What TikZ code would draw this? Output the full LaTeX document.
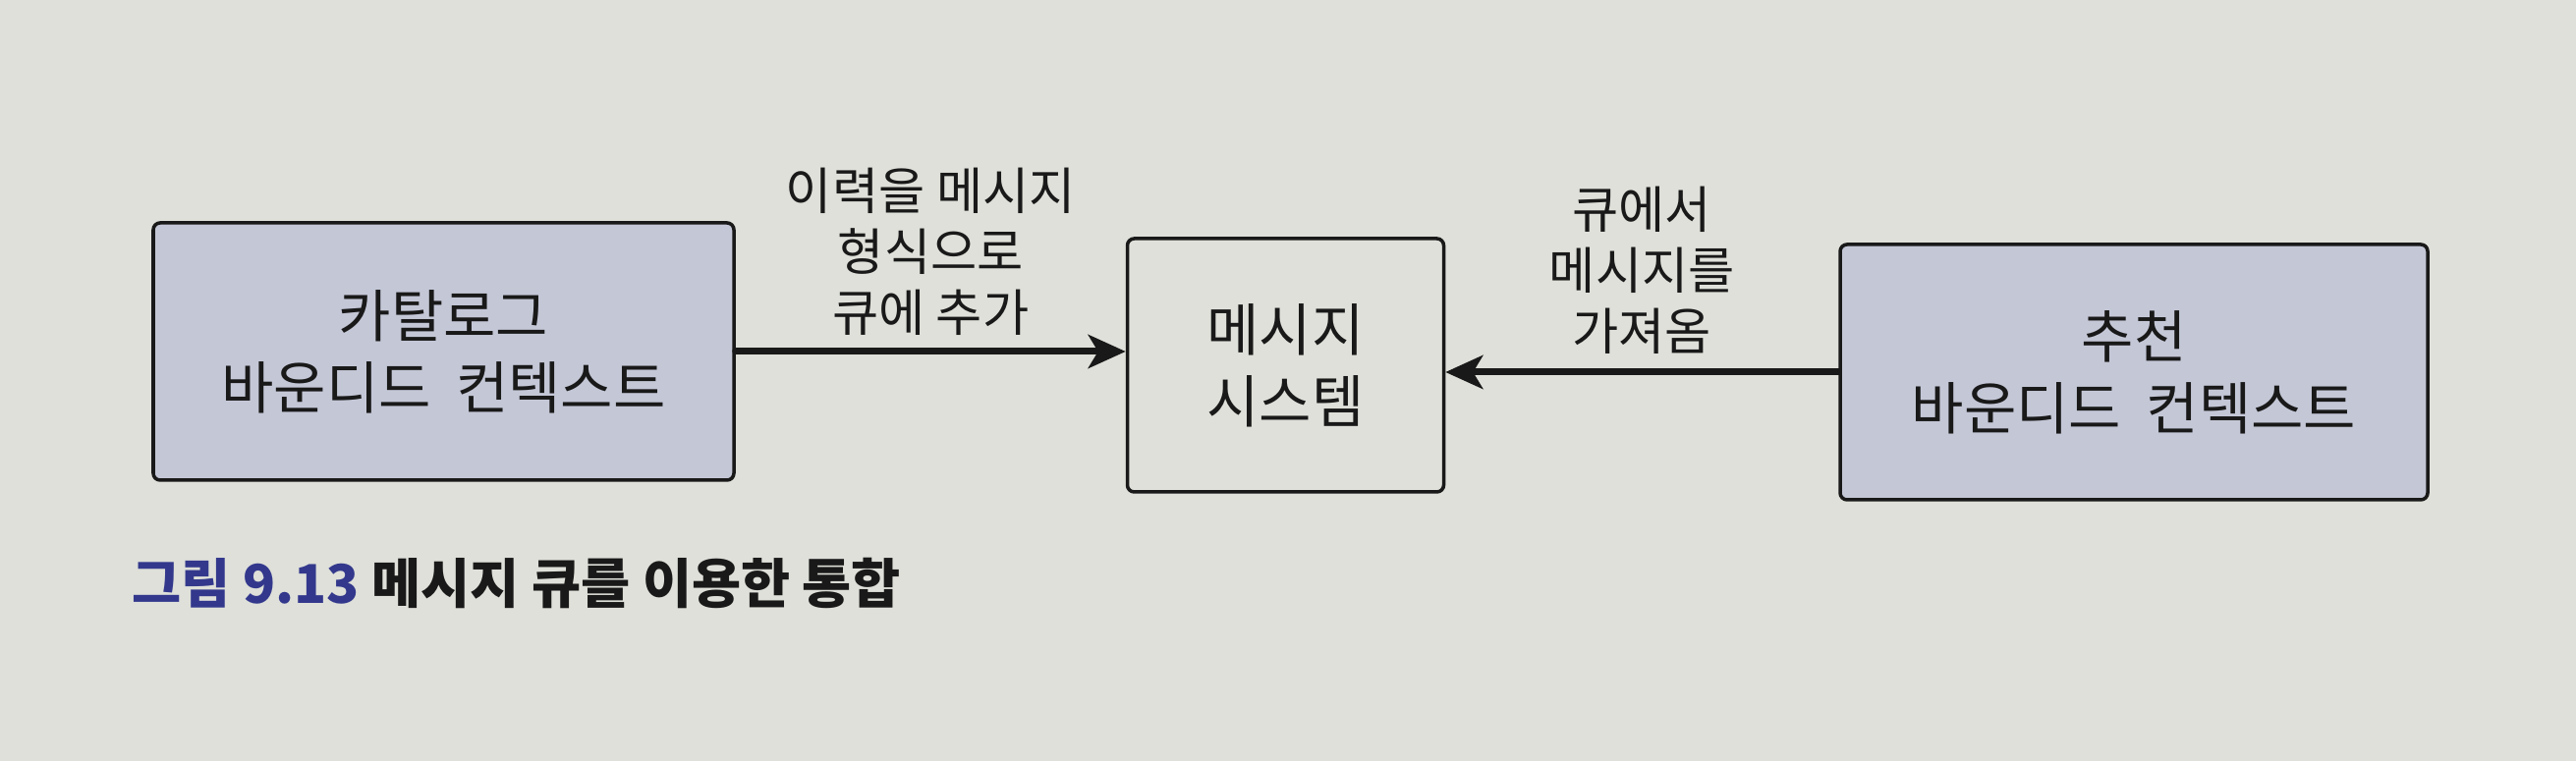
\documentclass[tikz,border=0pt]{standalone}
\usepackage{fontspec}
\newfontfamily\kr{Noto Sans CJK KR}
\newcommand{\wgap}{\hspace{0.44em}}
\usetikzlibrary{arrows.meta}
\definecolor{dcddd6}{rgb}{0.87,0.88,0.85}
\definecolor{c4c7d6}{rgb}{0.77,0.78,0.84}
\definecolor{qqqq8c}{rgb}{0.2,0.22,0.55}
\definecolor{ttttuu}{rgb}{0.1,0.1,0.1}
\begin{document}
\begin{tikzpicture}[line cap=round,line join=round,>={Stealth[length=0.38cm,width=0.34cm,inset=0.1cm]},x=1.0cm,y=1.0cm,
box/.style={draw=ttttuu,line width=1pt,rounded corners=0.07cm,align=center,inner sep=0pt,font=\kr\fontsize{16.5}{20.8}\selectfont,text=ttttuu},
lbl/.style={align=center,inner sep=0pt,font=\kr\fontsize{14.6}{17.6}\selectfont,text=ttttuu},
flow/.style={->,draw=ttttuu,line width=2pt}]
\useasboundingbox (0,0) rectangle (26.22,7.75);
\fill[color=dcddd6] (0,0) rectangle (26.22,7.75);
\node[box,fill=c4c7d6,minimum width=5.91cm,minimum height=2.62cm] (catalog) at (4.515,4.17) {카탈로그\\바운디드\wgap 컨텍스트};
\node[box,minimum width=3.22cm,minimum height=2.58cm] (msg) at (13.085,4.03) {메시지\\시스템};
\node[box,fill=c4c7d6,minimum width=5.98cm,minimum height=2.6cm] (reco) at (21.72,3.96) {추천\\바운디드\wgap 컨텍스트};
\draw[flow] (catalog.east) -- node[lbl,above=0.13cm] (putlbl) {이력을 메시지\\형식으로\\큐에 추가} (catalog.east -| msg.west);
\draw[flow] (reco.west) -- node[lbl,above=0.15cm] (getlbl) {큐에서\\메시지를\\가져옴} (reco.west -| msg.east);
\node[anchor=west,inner sep=0pt,font=\kr\bfseries\fontsize{15.5}{18}\selectfont,text=ttttuu] (caption) at (1.34,1.81) {{\color{qqqq8c}그림 9.13} 메시지 큐를 이용한 통합};
\end{tikzpicture}
\end{document}
